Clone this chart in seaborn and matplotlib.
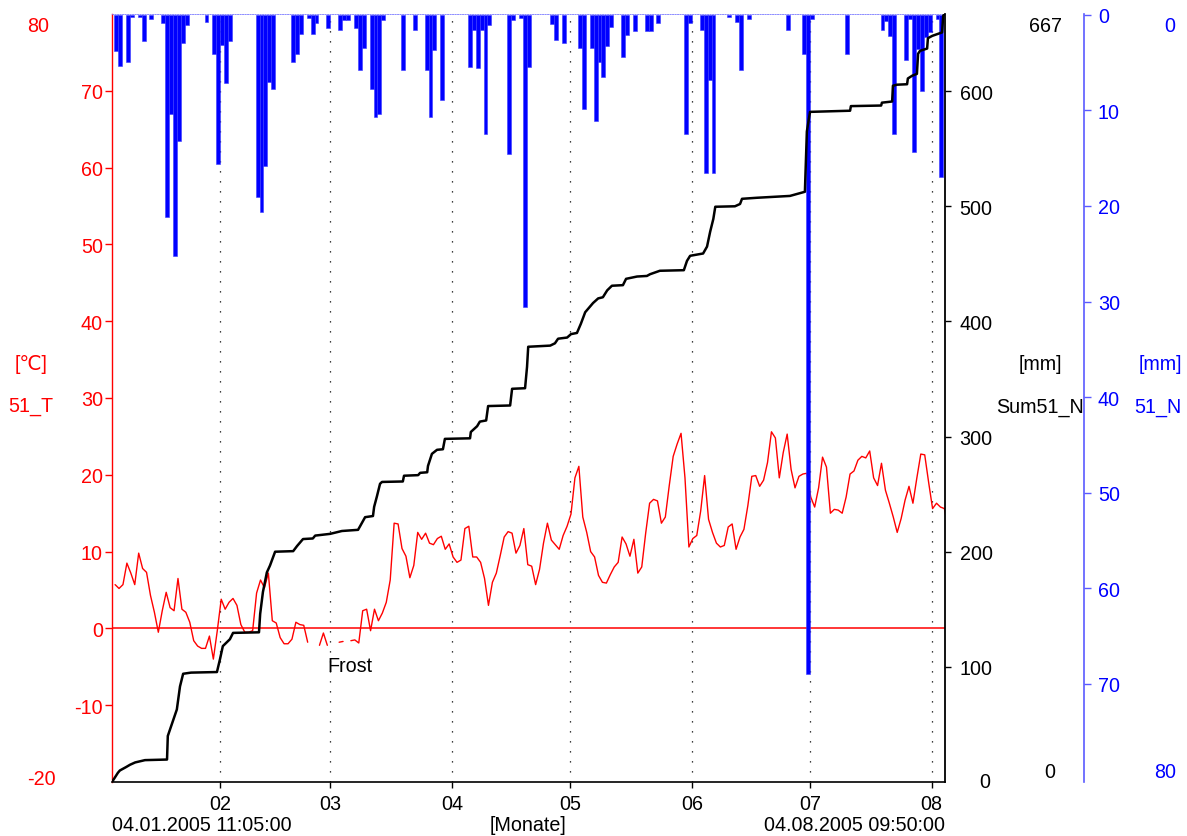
import numpy as np
import pandas as pd
import matplotlib
matplotlib.use("Agg")
import matplotlib.pyplot as plt
import seaborn as sns

# ---------------- data ----------------
START = "2005-01-04 11:05"
END = "2005-08-04 09:50"

# daily air temperature 51_T [°C] (NaN = gap)
temp_start = "2005-01-05 06:00"
temperature = [
    5.7, 5.2, 5.7, 8.5, 7.2, 5.7, 9.8, 7.8, 7.3, 4.3,
    2.1, -0.5, 2.3, 4.7, 2.7, 2.3, 6.5, 2.5, 2.1, 0.8,
    -1.6, -2.3, -2.6, -2.6, -1.0, -4.0, -0.3, 3.8, 2.5, 3.4,
    3.9, 3.0, 0.5, -0.5, -0.5, -0.3, 4.6, 6.3, 5.3, 7.2,
    1.0, 0.7, -1.2, -2.0, -2.0, -1.4, 0.8, 0.5, 0.4, -1.8,
    np.nan, np.nan, -2.2, -0.6, -2.2, np.nan, np.nan, -1.8, -1.7, np.nan,
    -1.6, -1.5, -1.9, 2.3, 2.5, -0.3, 2.5, 1.0, 2.0, 3.4,
    6.3, 13.7, 13.6, 10.4, 9.4, 6.6, 8.2, 12.5, 11.6, 12.4,
    11.1, 10.9, 11.7, 12.0, 10.3, 11.0, 9.3, 8.6, 8.9, 13.0,
    13.3, 9.3, 9.3, 8.6, 6.5, 3.0, 6.0, 7.2, 9.5, 11.9,
    12.6, 12.4, 9.8, 10.8, 13.0, 8.3, 8.1, 5.7, 7.7, 11.1,
    13.7, 11.5, 10.9, 10.3, 12.1, 13.3, 14.9, 19.6, 21.1, 14.5,
    12.5, 10.0, 9.3, 6.9, 6.0, 5.9, 7.0, 8.0, 8.6, 11.9,
    11.0, 9.4, 11.6, 7.2, 8.0, 12.4, 16.3, 16.8, 16.6, 13.7,
    14.5, 18.6, 22.4, 24.0, 25.4, 19.6, 10.6, 11.7, 12.1, 15.3,
    19.9, 14.2, 12.5, 11.1, 10.6, 10.8, 13.2, 13.6, 10.3, 11.9,
    12.9, 16.0, 19.8, 19.9, 18.5, 19.3, 21.6, 25.6, 24.8, 19.6,
    22.9, 25.3, 20.7, 18.3, 19.8, 20.1, 20.2, 17.1, 15.8, 18.3,
    22.3, 21.0, 15.0, 15.5, 15.4, 15.0, 17.1, 20.1, 20.5, 21.9,
    22.4, 22.2, 23.1, 19.6, 18.6, 21.5, 18.0, 16.3, 14.5, 12.5,
    14.3, 16.7, 18.5, 16.3, 19.6, 22.7, 22.6, 19.0, 15.6, 16.3,
    15.8, 15.6, 13.0,
]

# daily precipitation 51_N [mm]  (day index from precip_start, amount)
precip_start = "2005-01-05 12:00"
precip_day = [0, 1, 3, 4, 6, 7, 9, 12, 13, 14, 15, 16, 17, 18,
              23, 25, 26, 27, 28, 29, 36, 37, 38, 39, 40, 45, 46, 47,
              49, 50, 51, 54, 57, 58, 59, 61, 62, 63, 65, 66, 67, 68,
              73, 76, 79, 80, 81, 83, 90, 91, 92, 93, 94, 95, 100, 101,
              103, 104, 105, 111, 112, 114, 118, 119, 121, 122, 123, 124,
              125, 126, 129, 130, 132, 135, 136, 138, 145, 146, 149, 150,
              151, 152, 156, 158, 159, 161, 171, 175, 176, 177, 186, 195,
              196, 197, 198, 201, 202, 203, 204, 205, 206, 207, 209, 210]
precip_mm = [3.8, 5.3, 4.9, 0.2, 0.2, 2.7, 0.4, 0.8, 21.2, 10.4, 25.2, 13.2, 2.9, 1.0,
             0.7, 4.1, 15.6, 3.1, 7.1, 2.7, 19.1, 20.6, 15.8, 7.0, 7.7, 4.9, 4.1, 2.0,
             0.3, 2.0, 0.8, 1.4, 1.6, 0.5, 0.5, 1.4, 5.8, 3.5, 7.7, 10.7, 10.4, 0.5,
             5.8, 1.6, 5.8, 10.7, 3.7, 8.9, 5.5, 1.6, 5.6, 1.6, 12.5, 1.0, 14.6, 0.5,
             0.3, 30.6, 5.4, 0.9, 2.6, 2.9, 3.5, 9.8, 3.5, 11.1, 4.9, 6.5,
             3.2, 1.3, 4.4, 2.1, 1.7, 1.7, 1.7, 0.8, 12.5, 0.8, 1.6, 16.5,
             6.8, 16.5, 0.2, 0.7, 5.8, 0.4, 1.6, 4.1, 69.0, 0.4, 4.1, 1.6,
             0.6, 2.2, 12.5, 4.7, 0.4, 14.3, 3.6, 8.0, 2.3, 1.8, 0.4, 17.0]

# cumulative precipitation Sum51_N [mm] (days after START, value)
sum_day = [0.0, 1.5, 2.0, 3.6, 4.6, 5.9, 8.4, 14.0, 14.2, 15.3, 16.5, 17.3, 18.1, 20.1,
           26.7, 27.5, 28.2, 30.0, 30.8, 37.4, 37.7, 38.4, 39.4, 40.2, 41.5, 46.1, 47.1,
           48.6, 51.1, 51.7, 55.5, 58.5, 62.6, 63.1, 64.4, 66.4, 66.7, 67.4, 68.2, 68.7,
           74.0, 74.3, 77.9, 78.4, 80.2, 80.4, 81.4, 82.7, 84.2, 84.7, 91.1, 91.3, 92.9,
           93.6, 95.2, 95.7, 101.3, 101.8, 105.1, 105.6, 105.9, 111.5, 112.7, 113.5,
           115.8, 116.8, 118.3, 119.3, 120.4, 121.4, 122.4, 123.7, 124.9, 126.0, 127.2,
           130.0, 130.8, 133.6, 136.1, 136.9, 139.4, 145.5, 146.3, 147.1, 150.4, 151.4,
           152.2, 153.0, 153.5, 158.5, 159.8, 160.3, 164.1, 172.5, 176.3, 176.8, 177.6,
           187.8, 188.0, 195.7, 195.9, 198.5, 198.7, 199.7, 202.3, 202.5, 203.6, 204.8,
           205.1, 205.6, 207.4, 207.6, 208.7, 211.2, 211.5, 211.95]
sum_mm = [0, 8, 10, 13, 15, 17, 19, 19.5, 40, 51, 63, 83, 94, 95,
          95.5, 107, 118, 124, 129.5, 130, 146, 165, 182, 188, 200, 200.5, 205,
          211, 211.5, 214, 215.5, 218, 219, 222, 230, 231, 239, 248, 259, 260.6,
          261, 266, 266.5, 268.5, 269, 274.5, 285, 288.5, 289, 298, 298.5, 304, 309,
          313, 314, 326.5, 327, 341.5, 342, 360.5, 378, 379, 381, 385,
          386, 389, 390, 398, 408, 412, 416, 420, 421, 427, 431,
          431.5, 437, 439, 439.5, 441, 444, 444.5, 452.6, 457, 459, 465,
          478, 489, 499.6, 500, 502, 506.5, 507.4, 509, 512.6, 565, 582,
          583, 587, 587.5, 590, 591, 604.7, 605.6, 606, 611, 613.4, 615,
          632.5, 635, 637, 646, 648, 651, 665.6, 667]

month_ticks = ["2005-02-01", "2005-03-01", "2005-04-01", "2005-05-01",
               "2005-06-01", "2005-07-01", "2005-08-01"]
month_labels = ["02", "03", "04", "05", "06", "07", "08"]

temp_ticks = [-10, 0, 10, 20, 30, 40, 50, 60, 70]
sum_ticks = [100, 200, 300, 400, 500, 600]
precip_ticks = [0, 10, 20, 30, 40, 50, 60, 70]

# ---------------- style ----------------
sns.set_theme(style="white")
plt.rcParams["font.family"] = ["Liberation Sans", "DejaVu Sans"]
FS = 14.2
RED = "#ff0000"
BLUE = "#0000ff"
W, H = 1187, 837

fig = plt.figure(figsize=(W / 100, H / 100), dpi=100)
ax = fig.add_axes([112 / W, 1 - 783 / H, 833 / W, 768 / H])
ax3 = ax.twinx()
ax2 = ax.twinx()
ax.set_zorder(1)
ax3.set_zorder(2)
ax2.set_zorder(3)
for a in (ax2, ax3):
    a.patch.set_visible(False)

t0 = pd.Timestamp(START)
t1 = pd.Timestamp(END)

# temperature (split at gaps)
tdf = pd.DataFrame({
    "date": pd.date_range(temp_start, periods=len(temperature), freq="D"),
    "T": temperature,
})
tdf["seg"] = tdf["T"].isna().cumsum()
tdf = tdf.dropna()
sns.lineplot(data=tdf, x="date", y="T", units="seg", estimator=None,
             color=RED, lw=1.0, ax=ax, legend=False)
ax.axhline(0, color=RED, lw=1.1, zorder=1)
for m in month_ticks:
    ax.axvline(pd.Timestamp(m), color="black", lw=0.9, ls=(0, (1, 7)), zorder=0)
ax.text(t0 + pd.Timedelta(days=60.6), -4.8, "Frost", ha="center", va="center",
        fontsize=FS, color="black")

ax.set_xlim(t0, t1)
ax.set_ylim(-20, 80)
ax.set_xticks([pd.Timestamp(m) for m in month_ticks])
ax.set_xticklabels(month_labels)
ax.set_yticks(temp_ticks)
ax.set_yticklabels([str(v) for v in temp_ticks])
ax.set_xlabel("")
ax.set_ylabel("")
ax.tick_params(axis="y", colors=RED, labelcolor=RED, labelsize=FS,
               length=5, width=1, pad=1.5, left=True, direction="out")
ax.tick_params(axis="x", colors="black", labelsize=FS, length=4, width=1,
               pad=5, bottom=True, direction="out")
for s in ("top", "right"):
    ax.spines[s].set_visible(False)
ax.spines["left"].set_color(RED)
ax.spines["left"].set_linewidth(1.0)
ax.spines["bottom"].set_color("black")
ax.spines["bottom"].set_linewidth(1.2)

# precipitation bars (inverted axis, hanging from top)
pdates = pd.Timestamp(precip_start) + pd.to_timedelta(precip_day, unit="D")
ax3.bar(pdates, precip_mm, width=1.0, bottom=0, color=BLUE,
        edgecolor="#3a3aff", linewidth=0.4)
ax3.set_ylim(80.3, -0.1)
ax3.set_yticks(precip_ticks)
ax3.set_yticklabels([str(v) for v in precip_ticks])
ax3.spines["right"].set_position(("outward", 100))
ax3.spines["right"].set_color("#5a5aff")
ax3.spines["right"].set_linewidth(1.2)
ax3.spines["top"].set_visible(True)
ax3.spines["top"].set_color("#7878ff")
ax3.spines["top"].set_linewidth(0.6)
ax3.spines["top"].set_linestyle((0, (1.5, 1.5)))
for s in ("left", "bottom"):
    ax3.spines[s].set_visible(False)
ax3.tick_params(axis="y", colors="#5a5aff", labelcolor=BLUE, labelsize=FS,
                length=5, width=1, pad=5, right=True, direction="out")
ax3.set_ylabel("")
ax3.grid(False)

# cumulative sum
sdates = t0 + pd.to_timedelta(sum_day, unit="D")
sns.lineplot(x=sdates, y=sum_mm, estimator=None, sort=False, color="black",
             lw=1.8, ax=ax2, legend=False)
ax2.set_xlim(t0, t1)
ax2.set_ylim(0, 667)
ax2.set_yticks(sum_ticks)
ax2.set_yticklabels([str(v) for v in sum_ticks])
for s in ("left", "top", "bottom"):
    ax2.spines[s].set_visible(False)
ax2.spines["right"].set_color("black")
ax2.spines["right"].set_linewidth(1.3)
ax2.tick_params(axis="y", colors="black", labelsize=FS, length=4.5, width=1,
                pad=6, right=True, direction="out")
ax2.set_ylabel("")
ax2.grid(False)
ax.grid(False)

# ---------------- free texts ----------------
def ftext(x, y, s, color="black", ha="center"):
    fig.text(x / W, 1 - y / H, s, color=color, ha=ha, va="center", fontsize=FS)

ftext(38, 27, "80", RED)
ftext(31, 365, "[℃]", RED)
ftext(31, 407, "51_T", RED)
ftext(41, 780, "-20", RED)

ftext(985, 783, "0")
ftext(1046, 27, "667")
ftext(1040, 365, "[mm]")
ftext(1040, 408, "Sum51_N")
ftext(1050, 773, "0")

ftext(1170, 27, "0", BLUE)
ftext(1160, 365, "[mm]", BLUE)
ftext(1158, 408, "51_N", BLUE)
ftext(1165, 773, "80", BLUE)

ftext(112, 826, "04.01.2005 11:05:00", ha="left")
ftext(528, 826, "[Monate]")
ftext(945, 826, "04.08.2005 09:50:00", ha="right")

fig.savefig("out.png", dpi=100)
